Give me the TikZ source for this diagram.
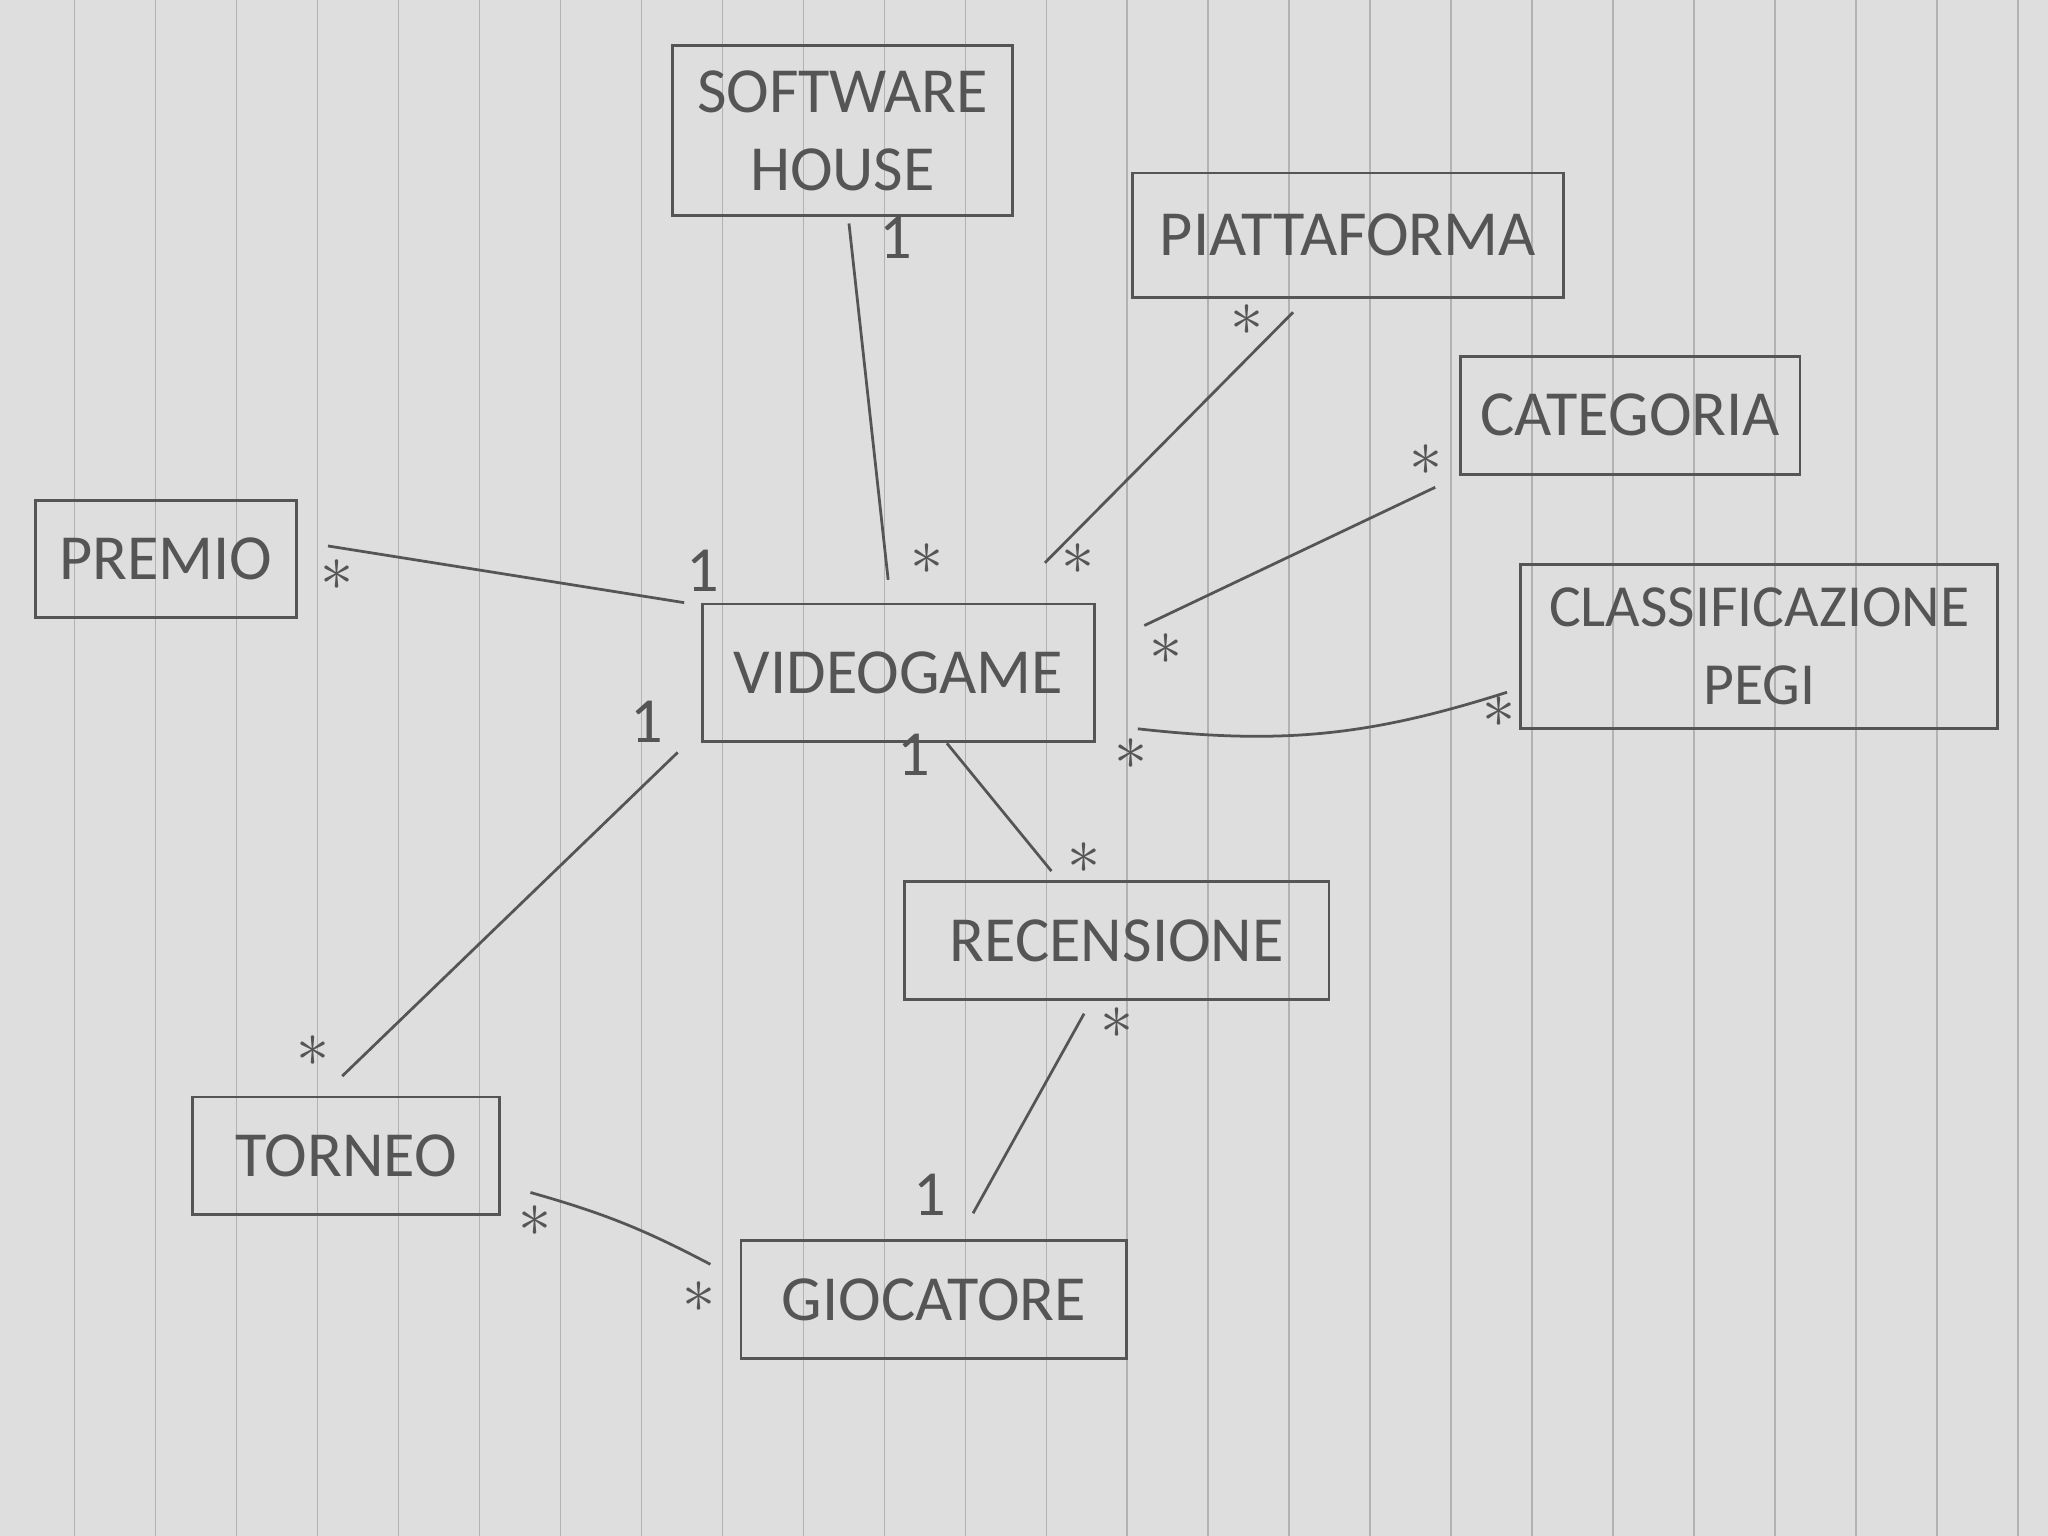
\documentclass[tikz,border=0pt]{standalone}
\usepackage{fontspec}
\setmainfont{Carlito}
\usetikzlibrary{positioning}
\definecolor{pencil}{HTML}{555555}
\definecolor{paper}{HTML}{DEDEDE}
\definecolor{rule}{HTML}{B2B2B2}

\begin{document}
\begin{tikzpicture}[x=0.01cm, y=-0.01cm]
    % Tyylit
    \tikzstyle{entity}=[draw=pencil, line width=0.6pt, text=pencil, font=\fontsize{14}{17}\selectfont, align=center, inner sep=2pt]
    \tikzstyle{assoc}=[draw=pencil, line width=0.6pt]
    \tikzstyle{mult}=[text=pencil, font=\fontsize{14}{16}\selectfont, inner sep=0pt]

    % Paperi
    \useasboundingbox (0,0) rectangle (1568,1176);
    \fill[paper] (0,0) rectangle (1568,1176);
    \foreach \x in {57,119,...,1546} \draw[rule, line width=0.3pt] (\x,0) -- (\x,1176);

    % Luokat (Solmut)
    \node[entity, minimum width=2.6cm, minimum height=1.3cm] (soft) at (645,100) {SOFTWARE\\HOUSE};
    \node[entity, minimum width=3.3cm, minimum height=0.95cm] (piatt) at (1032,180) {PIATTAFORMA};
    \node[entity, minimum width=2.6cm, minimum height=0.9cm] (cat) at (1248,318) {CATEGORIA};
    \node[entity, minimum width=3.65cm, minimum height=1.25cm, font=\fontsize{13}{17}\selectfont] (pegi) at (1347,495) {CLASSIFICAZIONE\\PEGI};
    \node[entity, minimum width=2.0cm, minimum height=0.9cm] (premio) at (127,428) {PREMIO};
    \node[entity, minimum width=3.0cm, minimum height=1.05cm] (video) at (688,515) {VIDEOGAME};
    \node[entity, minimum width=3.25cm, minimum height=0.9cm] (rec) at (855,720) {RECENSIONE};
    \node[entity, minimum width=2.35cm, minimum height=0.9cm] (torneo) at (265,885) {TORNEO};
    \node[entity, minimum width=2.95cm, minimum height=0.9cm] (gioc) at (715,995) {GIOCATORE};

    % Yhteydet (Viivat)
    \draw[assoc] ([shift={(5,5)}]soft.south) -- ([shift={(-8,-17.5)}]video.north);
    \draw[assoc] ([shift={(-42,10.5)}]piatt.south) -- ([shift={(112,-30.5)}]video.north);
    \draw[assoc] ([shift={(-18,9)}]cat.south west) -- ([shift={(37,17.5)}]video.north east);
    \draw[assoc] ([shift={(-9.5,35)}]pegi.west) to[bend left=12] ([shift={(32,43)}]video.east);
    \draw[assoc] ([shift={(23,-10)}]premio.east) -- ([shift={(-13,0)}]video.north west);
    \draw[assoc] ([shift={(-3,-15)}]torneo.north) -- ([shift={(-18,7.5)}]video.south west);
    \draw[assoc] ([shift={(37,0.5)}]video.south) -- ([shift={(-50,-7)}]rec.north);
    \draw[assoc] ([shift={(-25,10)}]rec.south) -- ([shift={(30,-20)}]gioc.north);
    \draw[assoc] ([shift={(22.5,28)}]torneo.east) to[bend left=6] ([shift={(-22.5,-27)}]gioc.west);

    % Kardinaliteetit
    \node[mult] (m1a) at (686,182) {1};
    \node[mult] (m1b) at (710,428) {$\ast$};
    \node[mult] (m2a) at (955,245) {$\ast$};
    \node[mult] (m2b) at (825,428) {$\ast$};
    \node[mult] (m3a) at (1092,352) {$\ast$};
    \node[mult] (m3b) at (893,497) {$\ast$};
    \node[mult] (m4a) at (1148,545) {$\ast$};
    \node[mult] (m4b) at (866,577) {$\ast$};
    \node[mult] (m5a) at (258,440) {$\ast$};
    \node[mult] (m5b) at (538,437) {1};
    \node[mult] (m6a) at (240,805) {$\ast$};
    \node[mult] (m6b) at (495,553) {1};
    \node[mult] (m7a) at (700,578) {1};
    \node[mult] (m7b) at (830,657) {$\ast$};
    \node[mult] (m8a) at (855,783) {$\ast$};
    \node[mult] (m8b) at (712,915) {1};
    \node[mult] (m9a) at (410,935) {$\ast$};
    \node[mult] (m9b) at (535,993) {$\ast$};

\end{tikzpicture}
\end{document}
